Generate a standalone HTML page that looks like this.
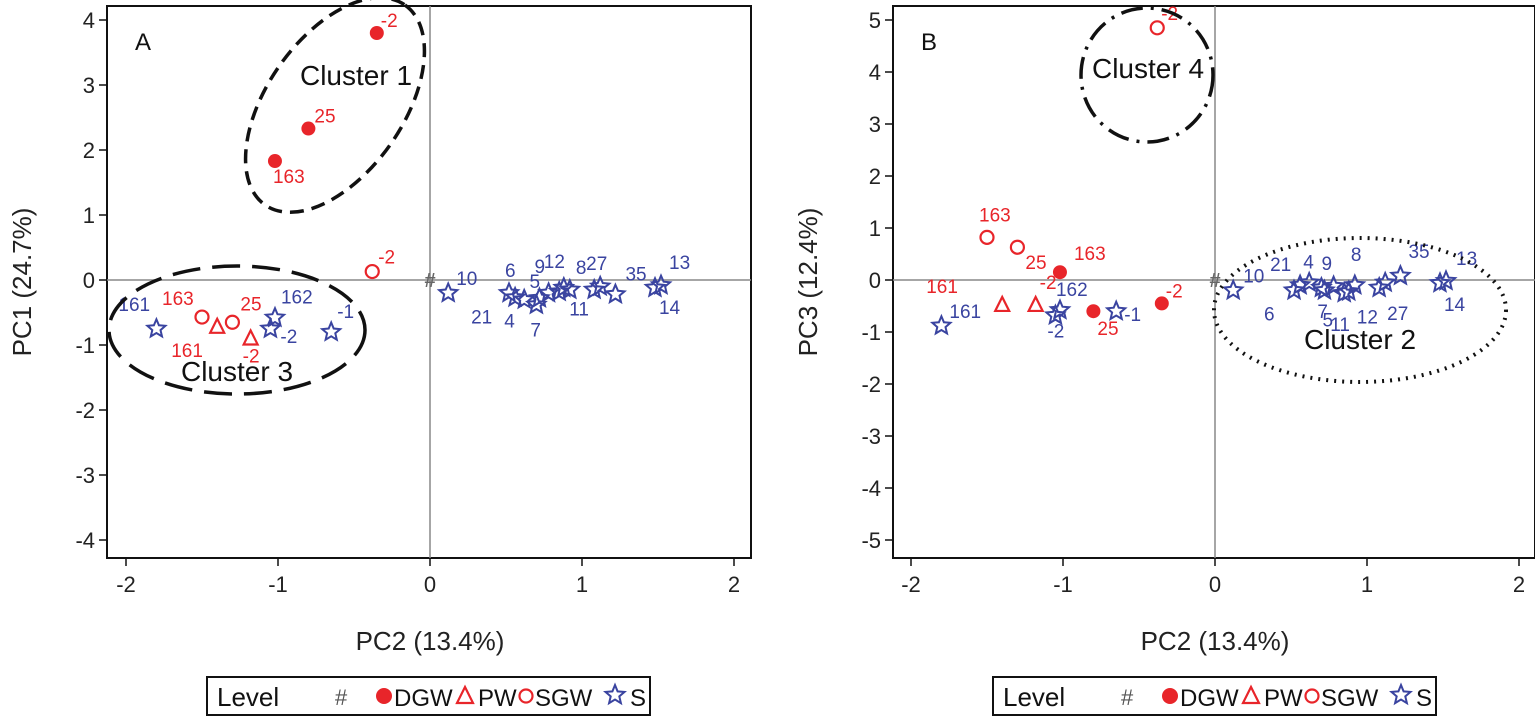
<!DOCTYPE html>
<html><head><meta charset="utf-8"><style>
body{margin:0;background:#fff;width:1535px;height:718px;overflow:hidden;font-family:"Liberation Sans",sans-serif}
svg{position:absolute;left:0;top:0}
</style></head><body>
<svg id="c" width="1535" height="718"></svg>
<script>
const labels=["-2","25","163","-2","163","25","161","-2","161","162","-2","-1","10","6","21","4","7","5","9","11","12","8","27","x27","35","13","14"];
const groups=["DGW","DGW","DGW","SGW","SGW","SGW","PW","PW","S","S","S","S","S","S","S","S","S","S","S","S","S","S","S","S","S","S","S"];
const pc2=[-0.35,-0.8,-1.02,-0.38,-1.5,-1.3,-1.4,-1.18,-1.8,-1.02,-1.05,-0.65,0.12,0.52,0.56,0.62,0.7,0.72,0.78,0.85,0.88,0.92,1.08,1.12,1.22,1.52,1.48];
const pc1=[3.8,2.33,1.83,0.13,-0.57,-0.65,-0.72,-0.9,-0.75,-0.58,-0.75,-0.8,-0.2,-0.2,-0.27,-0.3,-0.38,-0.28,-0.2,-0.18,-0.12,-0.15,-0.15,-0.1,-0.22,-0.08,-0.12];
const pc3=[-0.45,-0.6,0.15,4.85,0.82,0.63,-0.48,-0.48,-0.88,-0.58,-0.68,-0.6,-0.2,-0.2,-0.1,-0.05,-0.15,-0.2,-0.12,-0.25,-0.22,-0.1,-0.15,-0.05,0.08,-0.02,-0.06];
const xTicks=[-2,-1,0,1,2];
const yTicksA=[-4,-3,-2,-1,0,1,2,3,4];
const yTicksB=[-5,-4,-3,-2,-1,0,1,2,3,4,5];
const offA={0:[4,-6],1:[6,-6],2:[-2,22],3:[6,-8],4:[-40,-12],5:[8,-12],6:[-46,30],7:[-8,24],8:[-38,-18],9:[6,-14],10:[10,14],11:[6,-14],12:[8,-8],13:[-4,-16],14:[-44,26],15:[-20,28],16:[-6,32],17:[-10,-10],18:[-14,-20],19:[10,24],20:[-20,-20],21:[6,-16],22:[-8,-20],23:[99,99],24:[10,-14],25:[8,-16],26:[4,26]};
const offB={0:[4,-6],1:[4,24],2:[14,-12],3:[4,-8],4:[-8,-16],5:[8,22],6:[-76,-12],7:[4,-16],8:[8,-8],9:[-4,-14],10:[-8,22],11:[8,10],12:[10,-8],13:[-30,30],14:[-30,-14],15:[-6,-14],16:[-4,30],17:[-2,36],18:[-12,-16],19:[-14,38],20:[8,32],21:[-4,-24],22:[8,32],23:[99,99],24:[8,-18],25:[10,-16],26:[4,28]};
const NS="http://www.w3.org/2000/svg",svg=document.getElementById('c');
function el(t,a,p){const e=document.createElementNS(NS,t);for(const k in a)e.setAttribute(k,a[k]);(p||svg).appendChild(e);return e;}
function tx(x,y,s,a,p){const e=el('text',Object.assign({x:x,y:y},a),p);e.textContent=s;return e;}
function star(cx,cy,r){let p=[];for(let i=0;i<10;i++){const rr=i%2?r*0.45:r,a=-Math.PI/2+i*Math.PI/5;p.push((cx+rr*Math.cos(a)).toFixed(1)+','+(cy+rr*Math.sin(a)).toFixed(1));}return p.join(' ');}
function panel(P){
  const g=el('g',{});
  const X=v=>P.x0+v*152, Y=v=>280-v*P.ys;
  el('rect',{x:P.bx,y:6,width:P.bw,height:552,fill:'none',stroke:'#111','stroke-width':2},g);
  el('line',{x1:P.bx,x2:P.bx+P.bw,y1:Y(0),y2:Y(0),stroke:'#888','stroke-width':1.5},g);
  el('line',{x1:X(0),x2:X(0),y1:6,y2:558,stroke:'#888','stroke-width':1.5},g);
  const xa=el('g',{},g);
  xTicks.forEach(t=>{el('line',{x1:X(t),x2:X(t),y1:558,y2:566,stroke:'#111','stroke-width':1.5},xa);
    tx(X(t),592,t,{'font-size':22,'text-anchor':'middle',fill:'#222'},xa);});
  const ya=el('g',{},g);
  P.yt.forEach(t=>{el('line',{x1:P.bx-8,x2:P.bx,y1:Y(t),y2:Y(t),stroke:'#111','stroke-width':1.5},ya);
    tx(P.bx-12,Y(t)+8,t,{'font-size':22,'text-anchor':'end',fill:'#222'},ya);});
  const xt=tx(X(0),650,'PC2 (13.4%)',{'font-size':26,'text-anchor':'middle',fill:'#222'},g);
  
  const yt=tx(0,0,P.yl,{'font-size':26,'text-anchor':'middle',fill:'#222',transform:`translate(${P.bx-76},282) rotate(-90)`},g);
  
  tx(P.bx+28,50,P.letter,{'font-size':24,fill:'#111'},g);
  tx(X(0),Y(0)+7,'#',{'font-size':20,'text-anchor':'middle',fill:'#666','font-weight':'bold'},g);
  const vals=P.vals;
  for(let i=0;i<labels.length;i++){
    const cx=X(pc2[i]),cy=Y(vals[i]);let m;
    const red='#e8252a',blue='#3a44a0';
    if(groups[i]==='DGW')m=el('circle',{cx:cx,cy:cy,r:7,fill:red},g);
    else if(groups[i]==='SGW')m=el('circle',{cx:cx,cy:cy,r:6.5,fill:'none',stroke:red,'stroke-width':2.2},g);
    else if(groups[i]==='PW')m=el('polygon',{points:`${cx},${cy-8} ${cx-7},${cy+6} ${cx+7},${cy+6}`,fill:'none',stroke:red,'stroke-width':2.2},g);
    else m=el('polygon',{points:star(cx,cy,9.5),fill:'none',stroke:blue,'stroke-width':2},g);
    
    
    const o=P.off[i];if(!o||o[0]===99)continue;
    tx(cx+o[0],cy+o[1],labels[i],{'font-size':19,fill:groups[i]==='S'?blue:red},g);
  }
  P.ell.forEach(e=>{const a=el('ellipse',{cx:e[0],cy:e[1],rx:e[2],ry:e[3],transform:`rotate(${e[4]} ${e[0]} ${e[1]})`,fill:'none',stroke:'#111','stroke-width':e[6],'stroke-dasharray':e[5]},g);
    
    const t=tx(e[7],e[8],e[9],{'font-size':28,'text-anchor':'middle',fill:'#111'},g);
    });
  const L=el('g',{},g);
  const lx=P.lx;
  el('rect',{x:lx,y:677,width:443,height:38,fill:'#fff',stroke:'#111','stroke-width':2},L);
  tx(lx+10,706,'Level',{'font-size':26,fill:'#111'},L);
  tx(lx+128,705,'#',{'font-size':22,fill:'#555'},L);
  el('circle',{cx:lx+177,cy:696,r:8,fill:'#e8252a'},L);
  tx(lx+187,706,'DGW',{'font-size':24,fill:'#111'},L);
  el('polygon',{points:`${lx+258},${687} ${lx+250},${703} ${lx+266},${703}`,fill:'none',stroke:'#e8252a','stroke-width':2.2},L);
  tx(lx+271,706,'PW',{'font-size':24,fill:'#111'},L);
  el('circle',{cx:lx+319,cy:696,r:6.5,fill:'none',stroke:'#e8252a','stroke-width':2.2},L);
  tx(lx+328,706,'SGW',{'font-size':24,fill:'#111'},L);
  el('polygon',{points:star(lx+408,695,10),fill:'none',stroke:'#3a44a0','stroke-width':2},L);
  tx(lx+423,706,'S',{'font-size':24,fill:'#111'},L);
}
panel({name:'panel-a',bx:107,bw:644,x0:430,ys:65,yt:yTicksA,yl:'PC1 (24.7%)',letter:'A',vals:pc1,off:offA,lx:207,
  ell:[[335,105,122,68,-55,'14 8',3.5,356,85,'Cluster 1'],[237,330,128,64,0,'28 12',3.5,237,381,'Cluster 3']]});
panel({name:'panel-b',bx:893,bw:642,x0:1215,ys:52,yt:yTicksB,yl:'PC3 (12.4%)',letter:'B',vals:pc3,off:offB,lx:993,
  ell:[[1147,75,66,67,0,'22 8 3 8',3.5,1148,78,'Cluster 4'],[1360,310,146,72,0,'2 6',4,1360,349,'Cluster 2']]});
</script>
</body></html>
